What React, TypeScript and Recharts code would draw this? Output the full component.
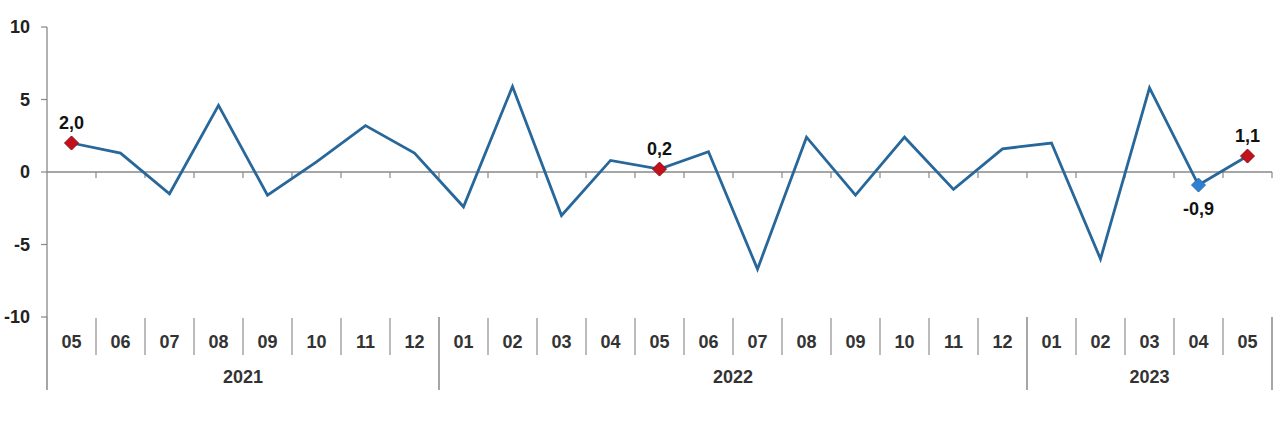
import React from 'react';
import { ComposedChart, Line, XAxis, YAxis, ReferenceLine } from 'recharts';

const months = ['05', '06', '07', '08', '09', '10', '11', '12', '01', '02', '03', '04', '05', '06', '07', '08', '09', '10', '11', '12', '01', '02', '03', '04', '05'];
const yearLabels = ['2021', '2022', '2023'];
const yearSpans = [8, 12, 5];
const values = [2.0, 1.3, -1.5, 4.6, -1.6, 0.7, 3.2, 1.3, -2.4, 5.9, -3.0, 0.8, 0.2, 1.4, -6.7, 2.4, -1.6, 2.4, -1.2, 1.6, 2.0, -6.0, 5.8, -0.9, 1.1];
const redIdx = [0, 12, 24];
const blueIdx = [23];
const labelAbove = [0, 12, 24];
const labelBelow = [23];
const yTicks = [-10, -5, 0, 5, 10];

const keys: string[] = [];
{
  let k = 0;
  yearLabels.forEach((yl, g) => {
    for (let j = 0; j < yearSpans[g]; j++) {
      keys.push(`${yl}-${months[k]}`);
      k++;
    }
  });
}
const data = months.map((m, i) => ({ key: keys[i], month: m, value: values[i] }));

const fmt = (v: number) => v.toFixed(1).replace('.', ',');

const XTick = (props: any) => {
  const { x, y, payload } = props;
  const i: number = payload?.index ?? props.index;
  const half: number = payload?.offset || 24.5;
  const left = x - half;
  const right = x + half;
  let start = 0;
  let g = 0;
  while (g < yearSpans.length - 1 && i >= start + yearSpans[g]) {
    start += yearSpans[g];
    g++;
  }
  const isGroupStart = i === start;
  const isLast = i === months.length - 1;
  return (
    <g>
      {isGroupStart ? (
        <line x1={left} x2={left} y1={y} y2={y + 73} stroke="#777" strokeWidth={1.3} />
      ) : (
        <line x1={left} x2={left} y1={y + 1} y2={y + 38} stroke="#aaa" strokeWidth={1.6} />
      )}
      {isLast && <line x1={right} x2={right} y1={y} y2={y + 73} stroke="#777" strokeWidth={1.3} />}
      <text x={x} y={y + 25} textAnchor="middle" dominantBaseline="central" fontSize={18} fontWeight="bold" fill="#333">
        {months[i]}
      </text>
      {isGroupStart && (
        <text x={left + yearSpans[g] * half} y={y + 60} textAnchor="middle" dominantBaseline="central" fontSize={18} fontWeight="bold" fill="#333">
          {yearLabels[g]}
        </text>
      )}
    </g>
  );
};

const ZeroLine = (props: any) => {
  const x1 = props.x1 ?? props.points?.[0]?.x;
  const x2 = props.x2 ?? props.points?.[1]?.x;
  const y1 = props.y1 ?? props.points?.[0]?.y;
  const n = months.length;
  const step = (x2 - x1) / n;
  const marks = [];
  for (let i = 1; i <= n; i++) {
    const xx = x1 + i * step;
    marks.push(<line key={i} x1={xx} x2={xx} y1={y1} y2={y1 + 6} stroke="#888" strokeWidth={1.2} />);
  }
  return (
    <g>
      <line x1={x1} x2={x2} y1={y1} y2={y1} stroke="#888" strokeWidth={1.3} />
      {marks}
    </g>
  );
};

const Diamond = (props: any) => {
  const { cx, cy, index } = props;
  const isRed = redIdx.includes(index);
  const isBlue = blueIdx.includes(index);
  if ((!isRed && !isBlue) || cx == null || cy == null) return <g key={`d${index}`} />;
  const r = 7;
  return (
    <path
      key={`d${index}`}
      d={`M${cx},${cy - r}L${cx + r},${cy}L${cx},${cy + r}L${cx - r},${cy}Z`}
      fill={isRed ? '#c2111b' : '#2f80d0'}
      stroke={isRed ? '#8c0b12' : '#2a6fb5'}
      strokeWidth={1}
    />
  );
};

const PointLabel = (props: any) => {
  const { x, y, index, value } = props;
  const above = labelAbove.includes(index);
  const below = labelBelow.includes(index);
  if (!above && !below) return null;
  return (
    <text
      key={`l${index}`}
      x={x}
      y={above ? y - 20 : y + 24}
      textAnchor="middle"
      dominantBaseline="central"
      fontSize={18}
      fontWeight="bold"
      fill="#111"
    >
      {fmt(Number(value))}
    </text>
  );
};

export default function App() {
  return (
    <div style={{ position: 'absolute', left: 0, top: 0, width: 1280, height: 421, background: '#fff', fontFamily: '"Liberation Sans", Arial, sans-serif' }}>
      <ComposedChart width={1280} height={421} data={data} margin={{ top: 27, right: 8, left: 7, bottom: 14 }}>
        <XAxis
          dataKey="key"
          type="category"
          scale="band"
          interval={0}
          axisLine={false}
          tickLine={false}
          tickSize={0}
          tickMargin={0}
          height={90}
          tick={<XTick />}
        />
        <YAxis
          type="number"
          domain={[-10, 10]}
          ticks={yTicks}
          width={40}
          axisLine={{ stroke: '#888', strokeWidth: 1.3 }}
          tickLine={{ stroke: '#888', strokeWidth: 1.2 }}
          tickSize={6}
          tickMargin={11}
          tick={{ fontSize: 18, fill: '#222', fontWeight: 'bold' }}
        />
        <ReferenceLine y={0} shape={<ZeroLine />} />
        <Line
          dataKey="value"
          stroke="#28679a"
          strokeWidth={2.8}
          isAnimationActive={false}
          dot={<Diamond />}
          activeDot={false}
          label={<PointLabel />}
        />
      </ComposedChart>
    </div>
  );
}
